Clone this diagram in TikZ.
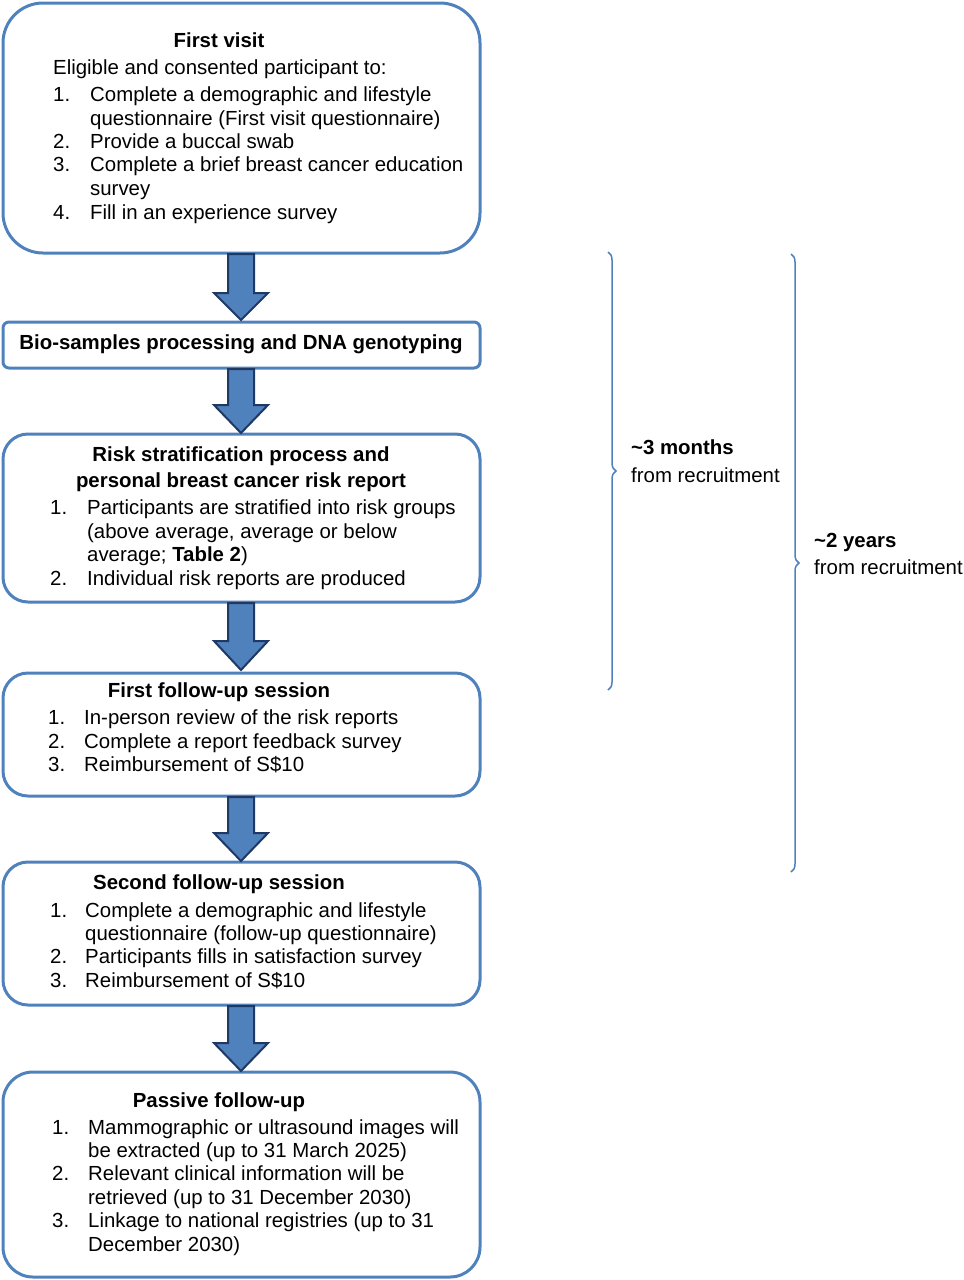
\documentclass[tikz,border=0pt]{standalone}
\usepackage{fontspec}
\setmainfont{Liberation Sans}
\usetikzlibrary{decorations.pathreplacing}
\definecolor{bl}{HTML}{4F81BD}
\definecolor{dk}{HTML}{1F3864}
\begin{document}
\begin{tikzpicture}[x=1pt,y=-1pt,
  box/.style={draw=bl,line width=3pt},
  t/.style={anchor=west,inner sep=0pt,text height=13pt,text depth=3pt,font=\fontsize{20.4}{24}\selectfont},
  tc/.style={inner sep=0pt,text height=13pt,text depth=3pt,font=\fontsize{20.4}{24}\selectfont\bfseries},
  brc/.style={draw=bl,line width=1.5pt,decorate,decoration={brace,amplitude=8pt}}]
\useasboundingbox (0,0) rectangle (964,1280);
\newcommand{\downarr}[3]{%
  \draw[dk,line width=2pt,fill=bl] (228,#1) -- (254,#1) -- (254,#3) -- (268,#3) -- (241,#2) -- (214,#3) -- (228,#3) -- cycle;}
% boxes
\draw[box,rounded corners=40] (3,3) rectangle (480,253);
\draw[box,rounded corners=6] (3,322) rectangle (480,368);
\draw[box,rounded corners=25] (3,434) rectangle (480,602);
\draw[box,rounded corners=25] (3,673) rectangle (480,796);
\draw[box,rounded corners=25] (3,862) rectangle (480,1005);
\draw[box,rounded corners=30] (3,1072) rectangle (480,1277);
% arrows
\downarr{254}{320}{293}
\downarr{369}{433}{405}
\downarr{603}{670}{641}
\downarr{797}{861}{833}
\downarr{1006}{1071}{1043}
% box1
\node[tc] (b1) at (219,42) {First visit};
\node[t] at (53,69) {Eligible and consented participant to:};
\node[t] at (53,96) {1.}; \node[t] at (90,96) {Complete a demographic and lifestyle};
\node[t] at (90,120) {questionnaire (First visit questionnaire)};
\node[t] at (53,143) {2.}; \node[t] at (90,143) {Provide a buccal swab};
\node[t] at (53,166) {3.}; \node[t] at (90,166) {Complete a brief breast cancer education};
\node[t] at (90,190) {survey};
\node[t] at (53,214) {4.}; \node[t] at (90,214) {Fill in an experience survey};
% box2
\node[tc] (b2) at (241,344) {Bio-samples processing and DNA genotyping};
% box3
\node[tc] (b3) at (241,456) {Risk stratification process and};
\node[tc] at (241,482) {personal breast cancer risk report};
\node[t] at (50,509) {1.}; \node[t] at (87,509) {Participants are stratified into risk groups};
\node[t] at (87,533) {(above average, average or below};
\node[t] at (87,556) {average; \textbf{Table 2})};
\node[t] at (50,580) {2.}; \node[t] at (87,580) {Individual risk reports are produced};
% box4
\node[tc] (b4) at (219,692) {First follow-up session};
\node[t] at (48,719) {1.}; \node[t] at (84,719) {In-person review of the risk reports};
\node[t] at (48,743) {2.}; \node[t] at (84,743) {Complete a report feedback survey};
\node[t] at (48,766) {3.}; \node[t] at (84,766) {Reimbursement of S\$10};
% box5
\node[tc] (b5) at (219,884) {Second follow-up session};
\node[t] at (50,912) {1.}; \node[t] at (85,912) {Complete a demographic and lifestyle};
\node[t] at (85,935) {questionnaire (follow-up questionnaire)};
\node[t] at (50,958) {2.}; \node[t] at (85,958) {Participants fills in satisfaction survey};
\node[t] at (50,982) {3.}; \node[t] at (85,982) {Reimbursement of S\$10};
% box6
\node[tc] (b6) at (219,1102) {Passive follow-up};
\node[t] at (52,1129) {1.}; \node[t] at (88,1129) {Mammographic or ultrasound images will};
\node[t] at (88,1152) {be extracted (up to 31 March 2025)};
\node[t] at (52,1175) {2.}; \node[t] at (88,1175) {Relevant clinical information will be};
\node[t] at (88,1199) {retrieved (up to 31 December 2030)};
\node[t] at (52,1222) {3.}; \node[t] at (88,1222) {Linkage to national registries (up to 31};
\node[t] at (88,1246) {December 2030)};
% braces
\coordinate (a1) at (608,252); \coordinate (a2) at (608,690);
\coordinate (c1) at (791,254); \coordinate (c2) at (791,872);
\draw[brc] (a1) -- (a2);
\draw[brc] (c1) -- (c2);
\node[t,font=\fontsize{20.4}{24}\selectfont\bfseries] at (631,449) {\textasciitilde3 months};
\node[t] at (631,477) {from recruitment};
\node[t,font=\fontsize{20.4}{24}\selectfont\bfseries] at (814,542) {\textasciitilde2 years};
\node[t] at (814,569) {from recruitment};
\end{tikzpicture}
\end{document}
